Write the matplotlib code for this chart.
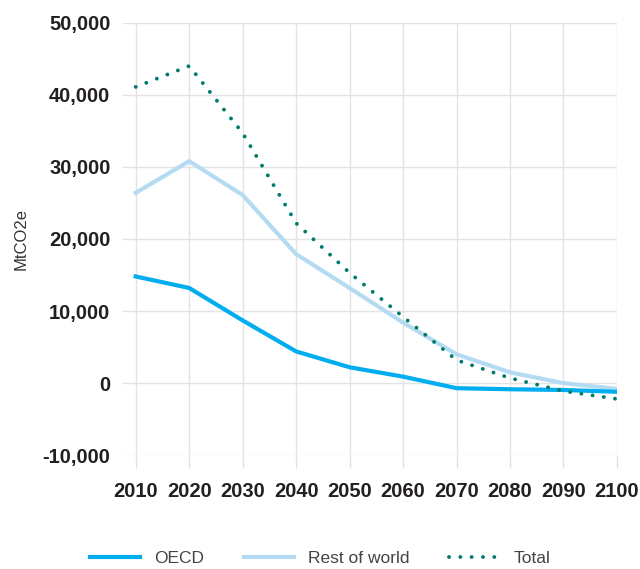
import matplotlib
matplotlib.use("Agg")
import matplotlib.pyplot as plt
from matplotlib.ticker import FuncFormatter

years = [2010, 2020, 2030, 2040, 2050, 2060, 2070, 2080, 2090, 2100]
oecd = [14800, 13200, 8700, 4400, 2200, 900, -700, -850, -950, -1200]
rest_of_world = [26400, 30800, 26100, 17900, 13200, 8400, 4000, 1500, 0, -800]
total = [41100, 44000, 34700, 22200, 15300, 9200, 3200, 700, -1100, -2200]

plt.rcParams['font.family'] = ['Liberation Sans', 'DejaVu Sans']

fig = plt.figure(figsize=(6.4, 5.69), dpi=100)
ax = fig.add_axes([0.192, 0.200, 0.772, 0.760])

ax.plot(years, oecd, color='#00aeef', lw=3, label='OECD', zorder=3)
ax.plot(years, rest_of_world, color='#b5dbf3', lw=3, label='Rest of world', zorder=2)
ax.plot(years, total, color='#007a6c', lw=2.8, linestyle=(0, (0.01, 2.9)),
        dash_capstyle='round', label='Total', zorder=4)

ax.set_xlim(2007.6, 2100)
ax.set_ylim(-10000, 50000)
ax.set_xticks(years)
ax.set_yticks(range(-10000, 50001, 10000))
ax.yaxis.set_major_formatter(FuncFormatter(lambda v, p: f"{int(v):,}"))

ax.grid(True, color='#e3e3e3', lw=1)
ax.set_axisbelow(True)
for s in ax.spines.values():
    s.set_visible(False)
ax.tick_params(axis='y', length=0, pad=9, labelsize=14.5, labelcolor='#231f20')
ax.tick_params(axis='x', length=9, width=1, color='#e3e3e3', pad=10,
               labelsize=14.5, labelcolor='#231f20')
for t in ax.get_xticklabels() + ax.get_yticklabels():
    t.set_fontweight('bold')

ax.set_ylabel('MtCO2e', fontsize=12, color='#333333', labelpad=10)

fig.legend(loc='lower center', bbox_to_anchor=(0.5, -0.022), ncol=3, frameon=False,
           fontsize=12.5, handlelength=2.9, columnspacing=2.3, handletextpad=0.8,
           labelcolor='#444444')

fig.savefig('out.png', dpi=100)
